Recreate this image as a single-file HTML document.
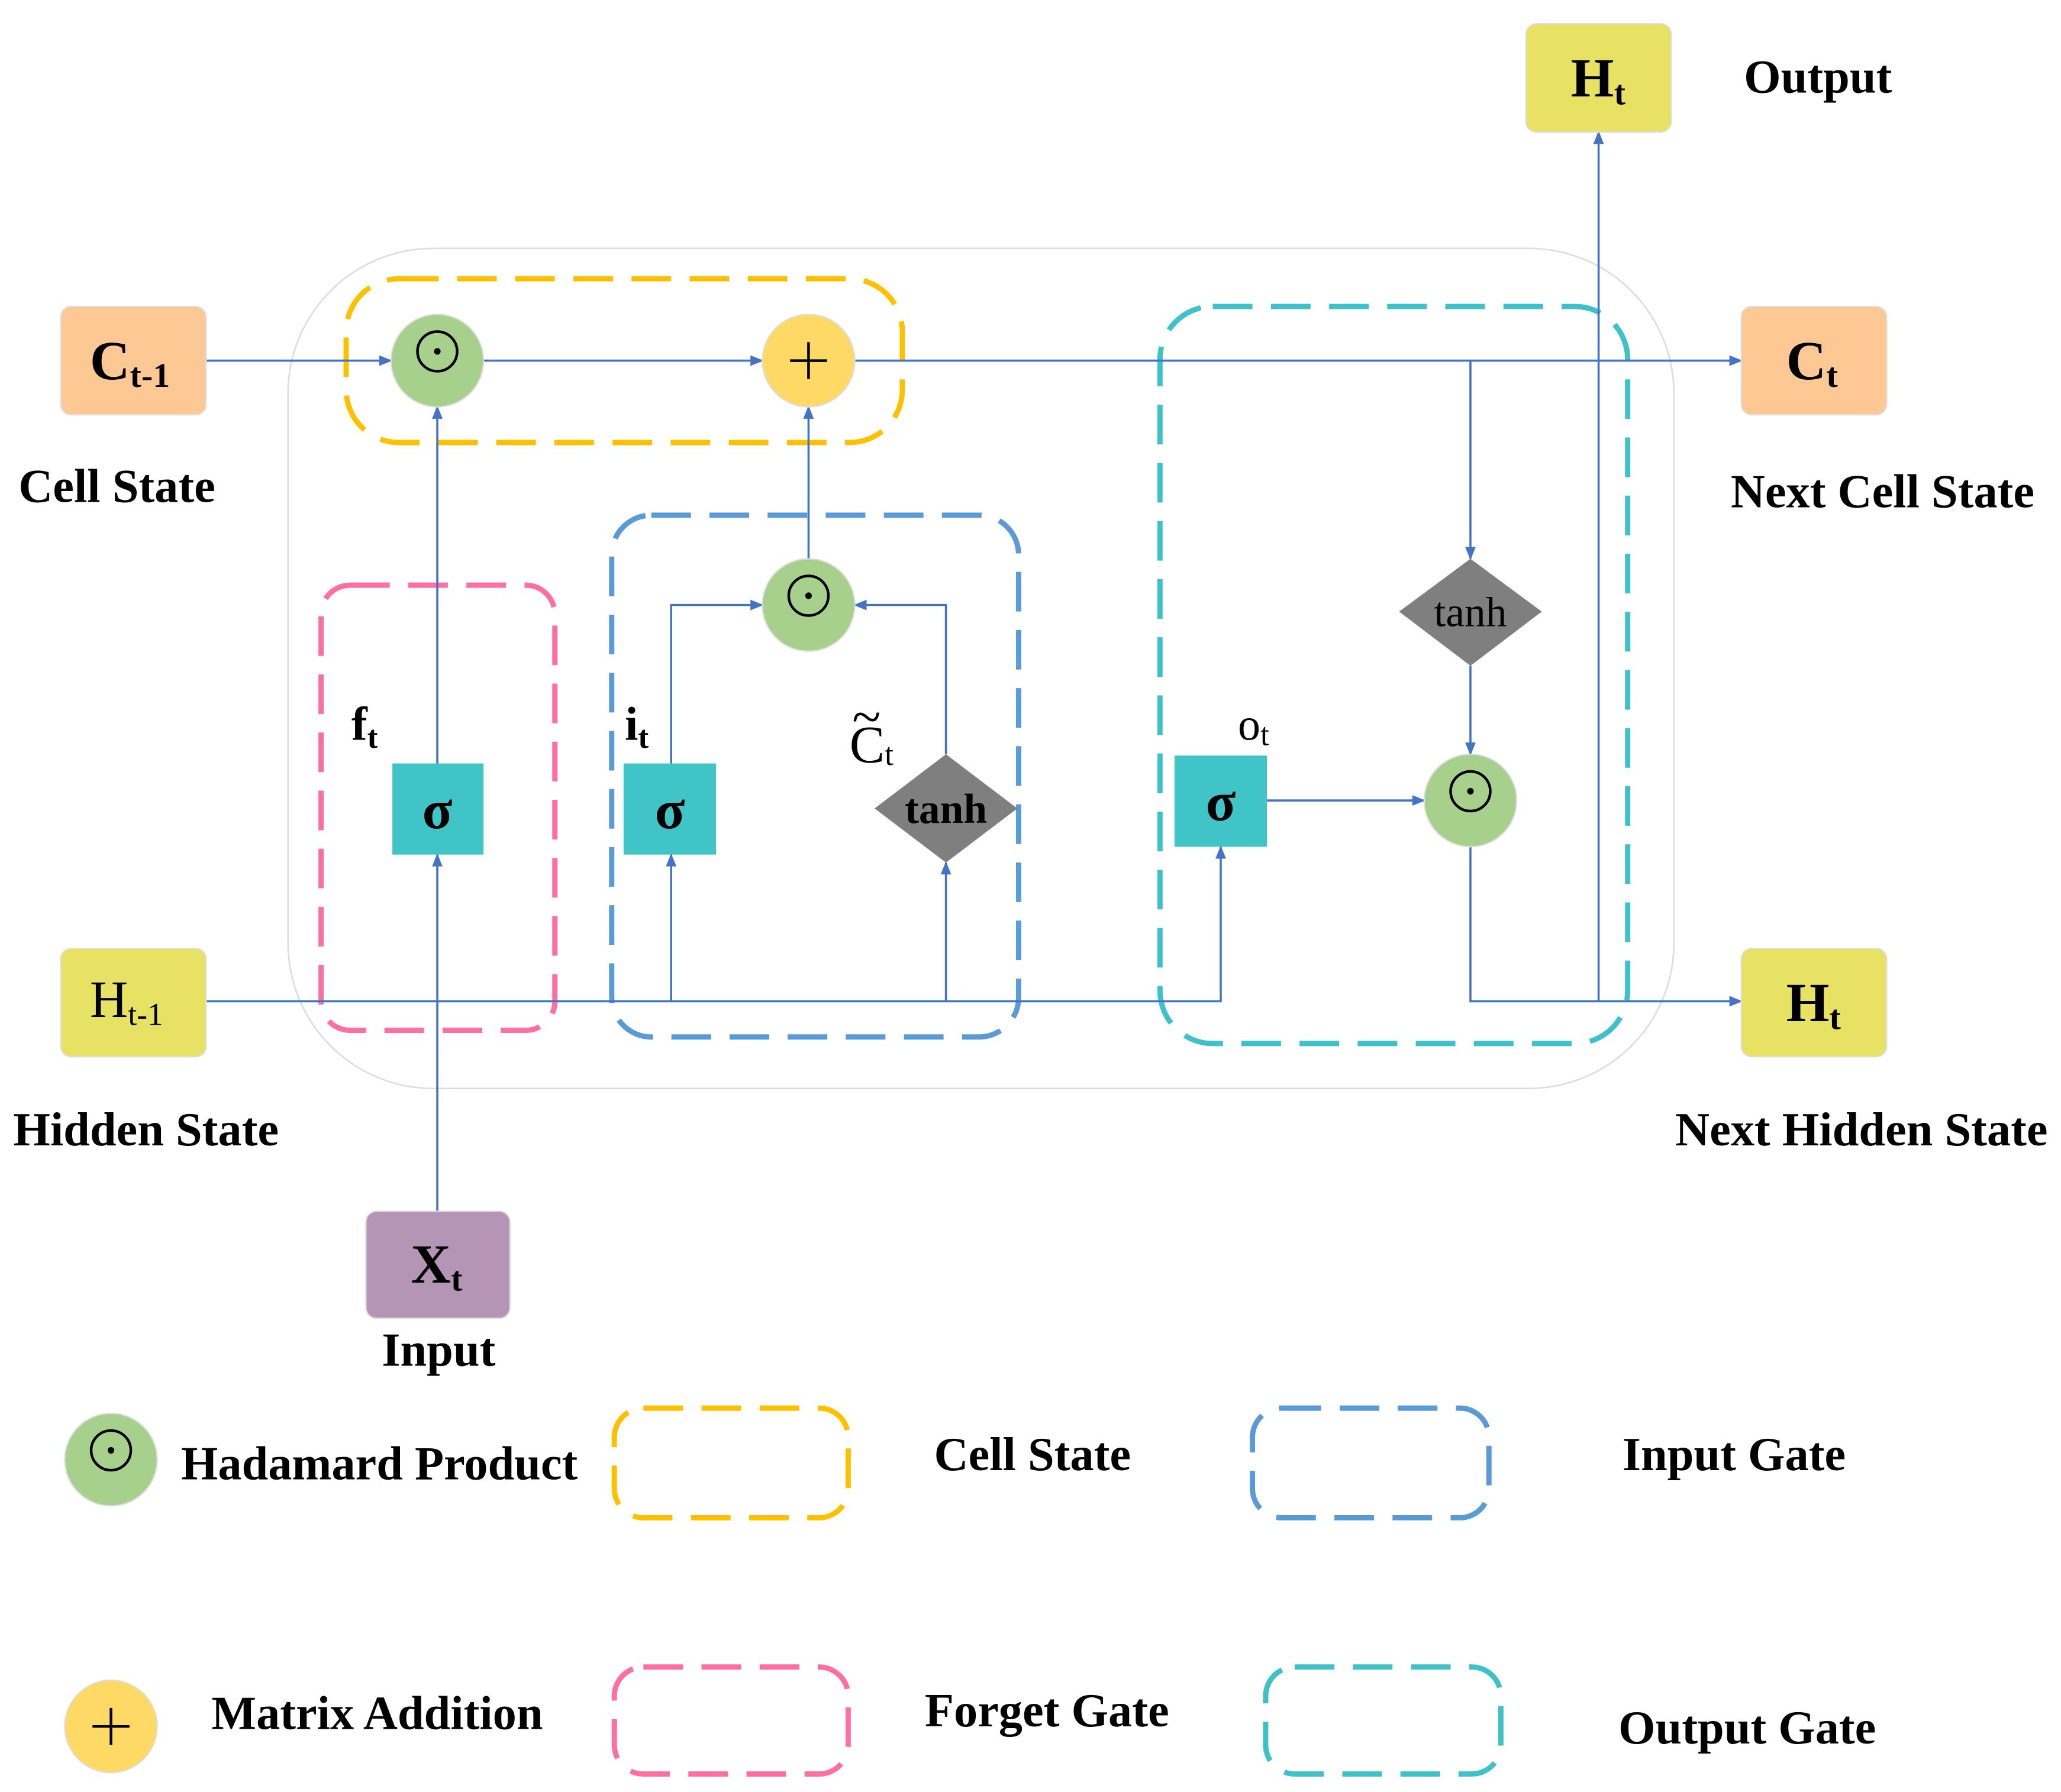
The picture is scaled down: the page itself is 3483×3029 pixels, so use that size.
<!DOCTYPE html>
<html><head><meta charset="utf-8"><style>html,body{margin:0;padding:0;background:#fff}svg{display:block}</style></head><body>
<svg width="3483" height="3029" viewBox="0 0 1560 1356.6" xmlns="http://www.w3.org/2000/svg" font-family="Liberation Serif, serif">
<defs><marker id="a" markerWidth="10" markerHeight="8" refX="9" refY="4" orient="auto" markerUnits="userSpaceOnUse"><path d="M0,0 L10,4 L0,8 z" fill="#4472c4"/></marker></defs>
<rect x="218" y="188" width="1049" height="636" rx="110" fill="none" stroke="#ddd" stroke-width="1.2"/>
<g fill="none" stroke-width="4" stroke-dasharray="30 14">
<rect x="262" y="211" width="421" height="124" rx="40" stroke="#ffc000"/>
<rect x="243" y="443" width="177" height="337" rx="22" stroke="#ff6fa0"/>
<rect x="463" y="390" width="308" height="395" rx="30" stroke="#5b9bd5"/>
<rect x="878" y="232" width="354" height="558" rx="40" stroke="#3fc1c9"/>
<rect x="465" y="1066" width="177" height="83" rx="22" stroke="#ffc000"/>
<rect x="948" y="1066" width="179" height="83" rx="22" stroke="#5b9bd5"/>
<rect x="465" y="1262" width="177" height="81" rx="22" stroke="#ff6fa0"/>
<rect x="958" y="1262" width="178" height="81" rx="22" stroke="#3fc1c9"/>
</g>
<g fill="none" stroke="#4472c4" stroke-width="1.6" marker-end="url(#a)">
<path d="M156,273H296"/><path d="M366,273H577"/><path d="M647,273H1318"/>
<path d="M1113,273V423"/><path d="M1113,504V571"/><path d="M1113,641V758H1318"/>
<path d="M1210,758V100"/><path d="M959,606H1078"/>
<path d="M156,758H924V641"/><path d="M508,758V647"/><path d="M716,758V653"/>
<path d="M508,578V458H577"/><path d="M716,571V458H647"/><path d="M612,423V308"/>
<path d="M331,917V647"/><path d="M331,578V308"/>
</g>
<g stroke="#ddd" stroke-width="1">
<circle cx="331" cy="273" r="35" fill="#a8d08d"/><circle cx="612" cy="273" r="35" fill="#fed966"/>
<circle cx="612" cy="458" r="35" fill="#a8d08d"/><circle cx="1113" cy="606" r="35" fill="#a8d08d"/>
<circle cx="84" cy="1105" r="35" fill="#a8d08d"/><circle cx="84" cy="1307" r="35" fill="#fed966"/>
</g>
<g fill="none" stroke="#000" stroke-width="2">
<circle cx="331" cy="266" r="15"/><circle cx="612" cy="451" r="15"/><circle cx="1113" cy="599" r="15"/><circle cx="84" cy="1098" r="15"/>
<path d="M598,273H626M612,259V287M70,1307H98M84,1293V1321"/>
</g>
<g fill="#000"><circle cx="331" cy="266" r="2.5"/><circle cx="612" cy="451" r="2.5"/><circle cx="1113" cy="599" r="2.5"/><circle cx="84" cy="1098" r="2.5"/></g>
<g fill="#40c4c8"><rect x="297" y="578" width="69" height="69"/><rect x="472" y="578" width="70" height="69"/><rect x="889" y="572" width="70" height="69"/></g>
<g fill="#7f7f7f"><path d="M716,571L770,612L716,653L662,612z"/><path d="M1113,423L1167,463L1113,504L1059,463z"/></g>
<g stroke="#ddd"><rect x="46" y="232" width="110" height="82" rx="8" fill="#fdc894"/><rect x="1318" y="232" width="110" height="82" rx="8" fill="#fdc894"/>
<rect x="46" y="718" width="110" height="82" rx="8" fill="#e8e264"/><rect x="1318" y="718" width="110" height="82" rx="8" fill="#e8e264"/>
<rect x="1155" y="18" width="110" height="82" rx="8" fill="#e8e264"/><rect x="277" y="917" width="109" height="81" rx="8" fill="#b595b5"/></g>
<g font-weight="bold" font-size="42" fill="#000">
<text x="68" y="287">C<tspan font-size="26" dy="6">t-1</tspan></text>
<text x="1352" y="287">C<tspan font-size="26" dy="6">t</tspan></text>
<text x="1352" y="773">H<tspan font-size="26" dy="6">t</tspan></text>
<text x="1189" y="73">H<tspan font-size="26" dy="6">t</tspan></text>
<text x="311" y="971">X<tspan font-size="26" dy="6">t</tspan></text>
<text x="331" y="627" text-anchor="middle">σ</text><text x="507" y="627" text-anchor="middle">σ</text><text x="924" y="621" text-anchor="middle">σ</text>
</g>
<text x="68" y="770" font-size="40">H<tspan font-size="24" dy="6">t-1</tspan></text>
<text x="716" y="623" font-size="32" font-weight="bold" text-anchor="middle">tanh</text>
<text x="1113" y="474" font-size="32" text-anchor="middle">tanh</text>
<g font-size="36" font-weight="bold">
<text x="266" y="560">f<tspan font-size="24" dy="6">t</tspan></text>
<text x="473" y="560">i<tspan font-size="24" dy="6">t</tspan></text>
</g>
<text x="643" y="577" font-size="40">C<tspan font-size="24" dy="2">t</tspan></text>
<text x="645" y="556" font-size="40">~</text>
<text x="937" y="560" font-size="34">o<tspan font-size="24" dy="4">t</tspan></text>
<g font-size="36" font-weight="bold">
<text x="14" y="380">Cell State</text><text x="10" y="867">Hidden State</text>
<text x="332" y="1034" text-anchor="middle">Input</text><text x="1320" y="70">Output</text>
<text x="1310" y="384">Next Cell State</text><text x="1268" y="867">Next Hidden State</text>
<text x="137" y="1120">Hadamard Product</text><text x="707" y="1113">Cell State</text>
<text x="1228" y="1113">Input Gate</text><text x="160" y="1309">Matrix Addition</text>
<text x="700" y="1307">Forget Gate</text><text x="1225" y="1320">Output Gate</text>
</g>
</svg>
</body></html>
